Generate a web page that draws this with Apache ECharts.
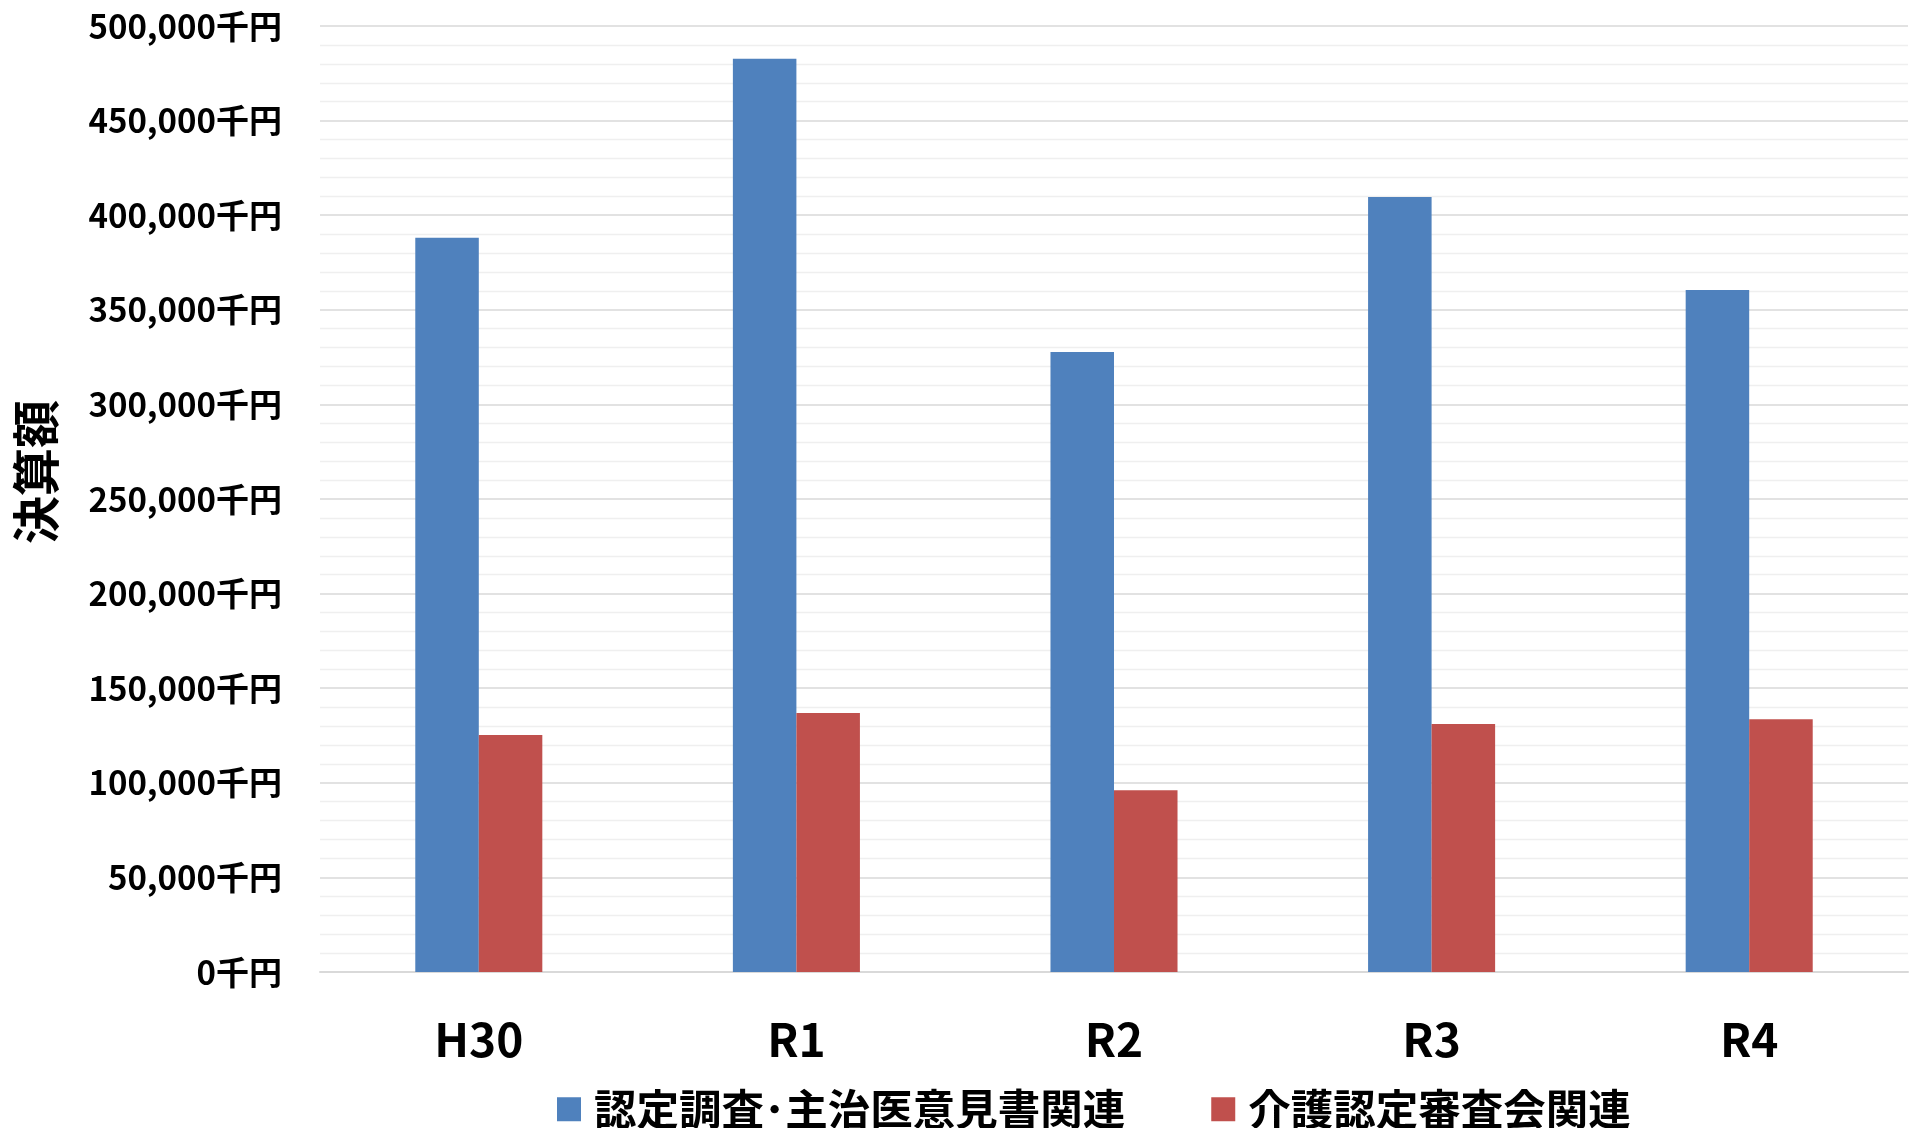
<!DOCTYPE html>
<html lang="ja">
<head>
<meta charset="utf-8">
<title>決算額の推移</title>
<script src="https://cdn.jsdelivr.net/npm/echarts@6/dist/echarts.min.js"></script>
<style>
  html, body { margin: 0; padding: 0; background: #ffffff; }
  #chart { width: 1914px; height: 1128px; }
</style>
</head>
<body>
<div id="chart"></div>
<script>
// 年度
const categories = ['H30', 'R1', 'R2', 'R3', 'R4'];
// 認定調査・主治医意見書関連（千円）
const surveyValues = [388100, 482700, 327700, 409600, 360500];
// 介護認定審査会関連（千円）
const boardValues = [125300, 136900, 96000, 131100, 133600];
// 系列名
const seriesNames = ['認定調査･主治医意見書関連', '介護認定審査会関連'];
// 縦軸
const yMin = 0;
const yMax = 500000;
const yInterval = 50000;
const yUnit = '千円';
const yTitle = '決算額';

const FONT = '"Noto Sans CJK JP", "Noto Sans", sans-serif';

const chart = echarts.init(document.getElementById('chart'), null, { renderer: 'canvas' });

chart.setOption({
  backgroundColor: '#ffffff',
  animation: false,
  textStyle: { fontFamily: FONT },
  grid: { left: 320, right: 6, top: 26, bottom: 156, containLabel: false },
  legend: {
    data: seriesNames,
    left: 552,
    top: 1083,
    icon: 'rect',
    itemWidth: 24,
    itemHeight: 24,
    itemGap: 86,
    textStyle: {
      fontFamily: FONT,
      fontSize: 42.5,
      fontWeight: 'bold',
      color: '#000000',
      padding: [0, 0, 0, 8]
    }
  },
  xAxis: {
    type: 'category',
    data: categories,
    axisTick: { show: false },
    axisLine: { show: true, lineStyle: { color: '#d9d9d9', width: 2 } },
    axisLabel: {
      margin: 45,
      fontFamily: FONT,
      fontSize: 46,
      fontWeight: 'bold',
      color: '#000000'
    }
  },
  yAxis: {
    type: 'value',
    min: yMin,
    max: yMax,
    interval: yInterval,
    axisLine: { show: false },
    axisTick: { show: false },
    axisLabel: {
      margin: 38,
      fontFamily: FONT,
      fontSize: 33,
      fontWeight: 'bold',
      color: '#000000',
      formatter: v => v.toLocaleString('en-US') + yUnit
    },
    splitLine: { show: true, lineStyle: { color: '#d9d9d9', width: 1.6 } },
    minorTick: { show: false, splitNumber: 5 },
    minorSplitLine: { show: true, lineStyle: { color: '#efefef', width: 1.3 } }
  },
  graphic: [{
    type: 'text',
    x: 36,
    y: 472,
    rotation: Math.PI / 2,
    style: {
      text: yTitle,
      align: 'center',
      verticalAlign: 'middle',
      font: 'bold 48px ' + FONT,
      fill: '#000000'
    }
  }],
  series: [
    {
      name: seriesNames[0],
      type: 'bar',
      data: surveyValues,
      barGap: '0%',
      barCategoryGap: '60%',
      itemStyle: { color: '#4f81bd' }
    },
    {
      name: seriesNames[1],
      type: 'bar',
      data: boardValues,
      barGap: '0%',
      barCategoryGap: '60%',
      itemStyle: { color: '#c0504d' }
    }
  ]
});
</script>
</body>
</html>
